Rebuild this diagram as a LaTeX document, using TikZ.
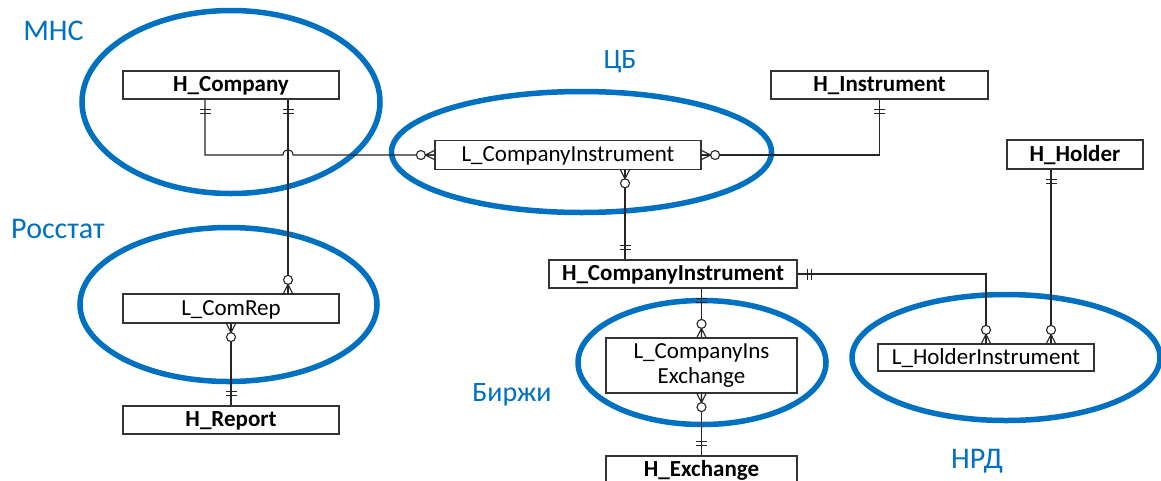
\documentclass[tikz,border=0pt]{standalone}
\usepackage{fontspec}
\setmainfont{Carlito}
\definecolor{ebl}{HTML}{0070C0}
\begin{document}
\begin{tikzpicture}[x=1pt,y=-1pt,
  ent/.style={draw=black!80, line width=1.2pt, fill=white, inner sep=0pt,
    text height=16pt, text depth=2.6pt,
    font=\fontsize{23}{26}\selectfont\bfseries},
  lnk/.style={draw=black!80, line width=1.2pt, fill=white, inner sep=0pt,
    text height=16pt, text depth=2.6pt,
    font=\fontsize{23}{26}\selectfont},
  lnk2/.style={draw=black!80, line width=1.2pt, fill=white, inner sep=0pt,
    font=\fontsize{23}{26}\selectfont, align=center},
  con/.style={draw=black!85, line width=1.1pt},
  grp/.style={draw=ebl, line width=5.5pt},
  lblA/.style={text=ebl, font=\fontsize{30}{34}\selectfont, inner sep=0pt},
  lblB/.style={text=ebl, font=\fontsize{28}{32}\selectfont, inner sep=0pt},
  one/.pic={\draw[con] (10,-5.5)--(10,5.5) (14,-5.5)--(14,5.5);},
  many/.pic={\draw[con] (0,-4.5)--(9,0)--(0,4.5) (0,0)--(9,0);
             \draw[con,fill=white] (13.5,0) circle[radius=4.5];}
]
\clip (0,0) rectangle (1161,480);
\fill[white] (0,0) rectangle (1161,480);

% groups
\draw[grp] (231,102) ellipse[x radius=149, y radius=91.5];
\draw[grp] (581.5,152) ellipse[x radius=190, y radius=60.5];
\draw[grp] (228.5,304.5) ellipse[x radius=148.5, y radius=77];
\draw[grp] (702,362.5) ellipse[x radius=124, y radius=62];
\draw[grp] (1006,357.5) ellipse[x radius=154, y radius=63];

% labels
\node[lblA] (tmns) at (53.5,30.5) {МНС};
\node[lblB] (tcb) at (620,61.5) {ЦБ};
\node[lblA] (tros) at (58,228.5) {Росстат};
\node[lblB] (tbir) at (512,394.5) {Биржи};
\node[lblA] (tnrd) at (977,461.5) {НРД};

% entities
\node[ent, minimum width=216, minimum height=28] (hco) at (231,85) {H\_Company};
\node[lnk, minimum width=266, minimum height=28.5] (lci) at (568,155) {L\_CompanyInstrument};
\node[ent, minimum width=217, minimum height=28] (hin) at (879.5,85) {H\_Instrument};
\node[ent, minimum width=136, minimum height=29] (hho) at (1075,154.5) {H\_Holder};
\node[lnk, minimum width=216, minimum height=29] (lcr) at (231,308.5) {L\_ComRep};
\node[ent, minimum width=216, minimum height=28] (hrp) at (231,420) {H\_Report};
\node[ent, minimum width=248, minimum height=28] (hci) at (673,274) {H\_CompanyInstrument};
\node[lnk2, minimum width=191, minimum height=55] (lce) at (701.5,365.5) {L\_CompanyIns\\[-1pt]Exchange};
\node[ent, minimum width=191, minimum height=28] (hex) at (701.5,470) {H\_Exchange};
\node[lnk, minimum width=216, minimum height=27] (lhi) at (986,357.5) {L\_HolderInstrument};

% connectors
\draw[con] ([xshift=-26]hco.south) |- (283,155) .. controls (283,148) and (293,148) .. (293,155) -- (lci.west);
\draw[con] ([xshift=57]hco.south) -- ([xshift=57]lcr.north);
\draw[con] (hin.south) |- (lci.east);
\draw[con] ([xshift=57]lci.south) -- ([xshift=57]lci.south |- hci.north);
\draw[con] (lcr.south) -- (hrp.north);
\draw[con] (hci.south -| lce.north) -- (lce.north);
\draw[con] (lce.south) -- (hex.north);
\draw[con] (hci.east) -| (lhi.north);
\draw[con] ([xshift=-24]hho.south) -- ([xshift=-24]hho.south |- lhi.north);

% cardinality marks
\pic[rotate=-90] at ([xshift=-26]hco.south) {one};
\pic[rotate=-90] at ([xshift=57]hco.south) {one};
\pic[rotate=180] at (lci.west) {many};
\pic at (lci.east) {many};
\pic[rotate=-90] at (hin.south) {one};
\pic[rotate=-90] at ([xshift=57]lci.south) {many};
\pic[rotate=90] at ([xshift=57]lci.south |- hci.north) {one};
\pic[rotate=90] at ([xshift=57]lcr.north) {many};
\pic[rotate=-90] at (lcr.south) {many};
\pic[rotate=90] at (hrp.north) {one};
\pic[rotate=-90] at (hci.south -| lce.north) {one};
\pic[rotate=90] at (lce.north) {many};
\pic[rotate=-90] at (lce.south) {many};
\pic[rotate=90] at (hex.north) {one};
\pic at (hci.east) {one};
\pic[rotate=90] at (lhi.north) {many};
\pic[rotate=-90] at ([xshift=-24]hho.south) {one};
\pic[rotate=90] at ([xshift=-24]hho.south |- lhi.north) {many};
\end{tikzpicture}
\end{document}
